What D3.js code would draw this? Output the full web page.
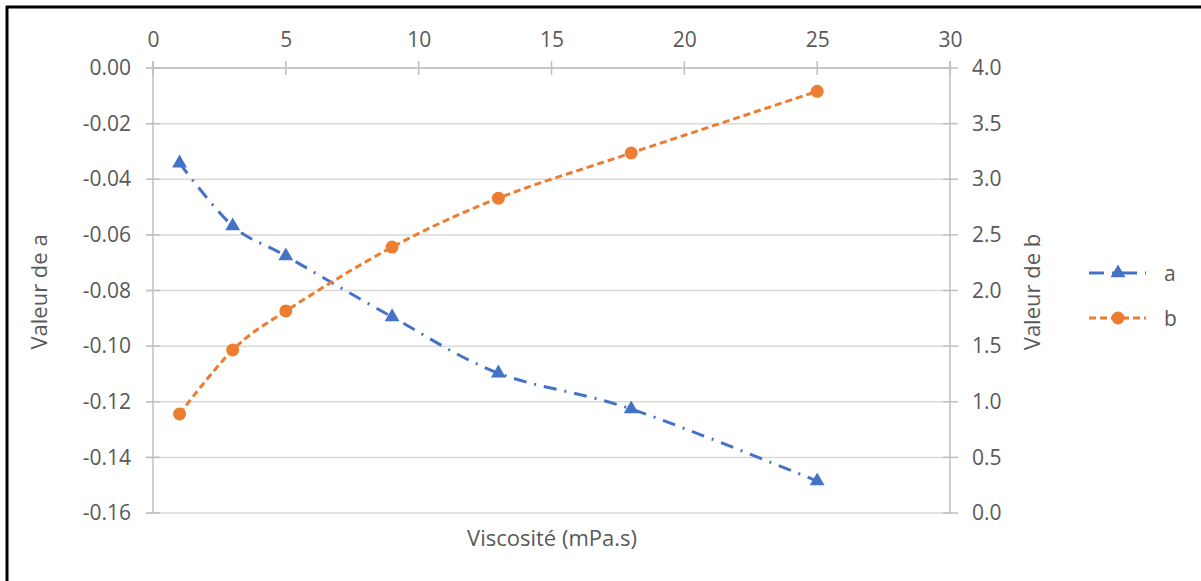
<!DOCTYPE html>
<html><head><meta charset="utf-8">
<script src="https://cdn.jsdelivr.net/npm/d3@7"></script>
<style>
html,body{margin:0;padding:0;background:#fff;}
svg{display:block;}
text{font-family:"Open Sans",sans-serif;fill:#595959;}
</style></head>
<body>
<script>
const viscosity = [1, 3, 5, 9, 13, 18, 25];
const seriesA = [-0.0342, -0.0568, -0.0676, -0.0895, -0.1097, -0.1226, -0.1485];
const seriesB = [0.89, 1.465, 1.816, 2.39, 2.83, 3.236, 3.79];
const xTicks = [0, 5, 10, 15, 20, 25, 30];
const aTicks = [0, -0.02, -0.04, -0.06, -0.08, -0.10, -0.12, -0.14, -0.16];
const bTicks = [0, 0.5, 1, 1.5, 2, 2.5, 3, 3.5, 4];
const seriesNames = ["a", "b"];
const colors = {a: "#4472C4", b: "#ED7D31"};

const W = 1201, H = 581;
const FS = 21, TFS = 22;
const svg = d3.select("body").append("svg").attr("width", W).attr("height", H);

const x = d3.scaleLinear().domain([0, 30]).range([153, 950]);
const yA = d3.scaleLinear().domain([-0.16, 0]).range([513, 68]);
const yB = d3.scaleLinear().domain([0, 4]).range([513, 68]);

// border
svg.append("line").attr("x1", 7).attr("x2", 7).attr("y1", 6).attr("y2", H).attr("stroke", "#000").attr("stroke-width", 3);
svg.append("line").attr("x1", 6).attr("x2", W).attr("y1", 7).attr("y2", 7).attr("stroke", "#000").attr("stroke-width", 3);

// gridlines
svg.append("g").selectAll("line").data(aTicks).join("line")
  .attr("x1", 146).attr("x2", 950)
  .attr("y1", d => yA(d)).attr("y2", d => yA(d))
  .attr("stroke", "#d9d9d9").attr("stroke-width", 1.5);

// left axis
const leftAxis = d3.axisLeft(yA).tickValues(aTicks).tickSize(0).tickPadding(0)
  .tickFormat(d => d3.format(".2f")(d).replace("−", "-"));
const gl = svg.append("g").attr("transform", "translate(131,0)").call(leftAxis);
gl.select(".domain").remove();
gl.selectAll("text").attr("font-size", FS).attr("fill", "#595959").attr("font-family", "Open Sans");
svg.append("line").attr("x1", 153).attr("x2", 153).attr("y1", 61).attr("y2", 513).attr("stroke", "#bfbfbf").attr("stroke-width", 1.5);
svg.append("g").selectAll("line").data(aTicks).join("line")
  .attr("x1", 146).attr("x2", 160).attr("y1", d => yA(d)).attr("y2", d => yA(d))
  .attr("stroke", "#bfbfbf").attr("stroke-width", 1.5);

// right axis
const rightAxis = d3.axisRight(yB).tickValues(bTicks).tickFormat(d3.format(".1f")).tickSize(0).tickPadding(0);
const gr = svg.append("g").attr("transform", "translate(972,0)").call(rightAxis);
gr.select(".domain").remove();
gr.selectAll("text").attr("font-size", FS).attr("fill", "#595959").attr("font-family", "Open Sans");
svg.append("line").attr("x1", 950).attr("x2", 950).attr("y1", 61).attr("y2", 513).attr("stroke", "#bfbfbf").attr("stroke-width", 1.5);
svg.append("g").selectAll("line").data(bTicks).join("line")
  .attr("x1", 943).attr("x2", 958).attr("y1", d => yB(d)).attr("y2", d => yB(d))
  .attr("stroke", "#bfbfbf").attr("stroke-width", 1.5);

// top axis
const topAxis = d3.axisTop(x).tickValues(xTicks).tickFormat(d3.format("d")).tickSize(0).tickPadding(0);
const gt = svg.append("g").attr("transform", "translate(0,47)").call(topAxis);
gt.select(".domain").remove();
gt.selectAll("text").attr("font-size", FS).attr("fill", "#595959").attr("font-family", "Open Sans");
svg.append("line").attr("x1", 153).attr("x2", 950).attr("y1", 68).attr("y2", 68).attr("stroke", "#bfbfbf").attr("stroke-width", 1.5);
svg.append("g").selectAll("line").data(xTicks).join("line")
  .attr("x1", d => x(d)).attr("x2", d => x(d)).attr("y1", 61).attr("y2", 75)
  .attr("stroke", "#bfbfbf").attr("stroke-width", 1.5);

// axis titles
svg.append("text").attr("transform", "translate(38,292) rotate(-90)").attr("text-anchor", "middle")
  .attr("dominant-baseline", "central").attr("font-size", TFS).text("Valeur de a");
svg.append("text").attr("transform", "translate(1031,292) rotate(-90)").attr("text-anchor", "middle")
  .attr("dominant-baseline", "central").attr("font-size", TFS).text("Valeur de b");
svg.append("text").attr("x", 552).attr("y", 537).attr("text-anchor", "middle")
  .attr("dominant-baseline", "central").attr("font-size", TFS).text("Viscosité (mPa.s)");

const curve = d3.curveCatmullRom.alpha(0);
const dashA = "13,8,2,8", dashB = "7,4";

// series a
const ptsA = viscosity.map((v, i) => [v, seriesA[i]]);
svg.append("path").datum(ptsA)
  .attr("d", d3.line().x(d => x(d[0])).y(d => yA(d[1])).curve(curve))
  .attr("fill", "none").attr("stroke", colors.a).attr("stroke-width", 3).attr("stroke-dasharray", dashA);
const tri = d3.symbol().type(d3.symbolTriangle).size(95);
svg.append("g").selectAll("path").data(ptsA).join("path")
  .attr("d", tri).attr("transform", d => `translate(${x(d[0])},${yA(d[1])})`).attr("fill", colors.a);

// series b
const ptsB = viscosity.map((v, i) => [v, seriesB[i]]);
svg.append("path").datum(ptsB)
  .attr("d", d3.line().x(d => x(d[0])).y(d => yB(d[1])).curve(curve))
  .attr("fill", "none").attr("stroke", colors.b).attr("stroke-width", 3).attr("stroke-dasharray", dashB);
svg.append("g").selectAll("circle").data(ptsB).join("circle")
  .attr("cx", d => x(d[0])).attr("cy", d => yB(d[1])).attr("r", 6.5).attr("fill", colors.b);

// legend
const legY = {a: 273, b: 318};
seriesNames.forEach(n => {
  const g = svg.append("g");
  g.append("line").attr("x1", 1089).attr("x2", 1146).attr("y1", legY[n]).attr("y2", legY[n])
    .attr("stroke", colors[n]).attr("stroke-width", 3)
    .attr("stroke-dasharray", n === "a" ? "15,8,2,8" : "7,4");
  if (n === "a") g.append("path").attr("d", tri).attr("transform", `translate(1118,${legY[n]})`).attr("fill", colors.a);
  else g.append("circle").attr("cx", 1118).attr("cy", legY[n]).attr("r", 6.5).attr("fill", colors.b);
  g.append("text").attr("x", 1164).attr("y", legY[n]).attr("dominant-baseline", "central").attr("font-size", FS).text(n);
});
</script>
</body></html>
